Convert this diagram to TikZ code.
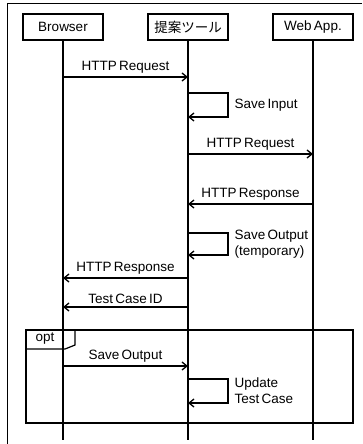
\documentclass[tikz,border=0pt]{standalone}
\usepackage{fontspec}
\setmainfont[WordSpace=0.6]{Liberation Sans}
\newfontfamily\jpfont{Noto Sans CJK JP}
\usetikzlibrary{arrows.meta, positioning}

\tikzset{
    actor/.style = {draw, line width=1.2pt, minimum width=80pt, minimum height=26pt, inner sep=2pt},
    lifeline/.style = {line width=1.4pt},
    msg/.style = {line width=1.3pt, -{Straight Barb[length=5pt, width=8pt]}},
    lbl/.style = {above, inner sep=3pt},
    note/.style = {right, align=left, inner sep=0pt, xshift=6pt},
}

\begin{document}
\begin{tikzpicture}[x=1pt, y=-1pt, font=\fontsize{13.5}{16}\selectfont]
    \useasboundingbox (0,0) rectangle (362,444);
    \draw[line width=0.9pt] (362,3) -- (7,3) -- (7,444);

    % participants and their lifelines
    \node (browser) [actor] at (63,27) {Browser};
    \node (tool) [actor] at (188,27) {\jpfont 提案ツール};
    \node (webapp) [actor] at (313,27) {Web App.};
    \foreach \n in {browser, tool, webapp} {
        \coordinate (\n-end) at (\n |- 0,440);
        \draw[lifeline] (\n.south) -- (\n-end);
    }

    % messages
    \draw[msg] (browser |- 0,77) -- node[lbl] {HTTP Request} (tool |- 0,77);
    \draw[msg] (tool |- 0,93) -- ++(40,0) |- node[note, pos=0.25] {Save Input} (tool |- 0,117);
    \draw[msg] (tool |- 0,154) -- node[lbl] {HTTP Request} (webapp |- 0,154);
    \draw[msg] (webapp |- 0,204) -- node[lbl] {HTTP Response} (tool |- 0,204);
    \draw[msg] (tool |- 0,233) -- ++(40,0) |- node[note, pos=0.25] {Save Output\\(temporary)} (tool |- 0,255);
    \draw[msg] (tool |- 0,278) -- node[lbl] {HTTP Response} (browser |- 0,278);
    \draw[msg] (tool |- 0,307) -- node[lbl] {Test Case ID} (browser |- 0,307);

    % optional fragment
    \draw[line width=1.2pt] (26,330) rectangle (353,423);
    \draw[line width=1.2pt] (26,349) -- (65,349) -- (75,345) -- (75,330);
    \node (opt) at (45,339) {opt};
    \draw[msg] (browser |- 0,366) -- node[lbl] {Save Output} (tool |- 0,366);
    \draw[msg] (tool |- 0,379) -- ++(40,0) |- node[note, pos=0.25] {Update\\Test Case} (tool |- 0,403);
\end{tikzpicture}
\end{document}
